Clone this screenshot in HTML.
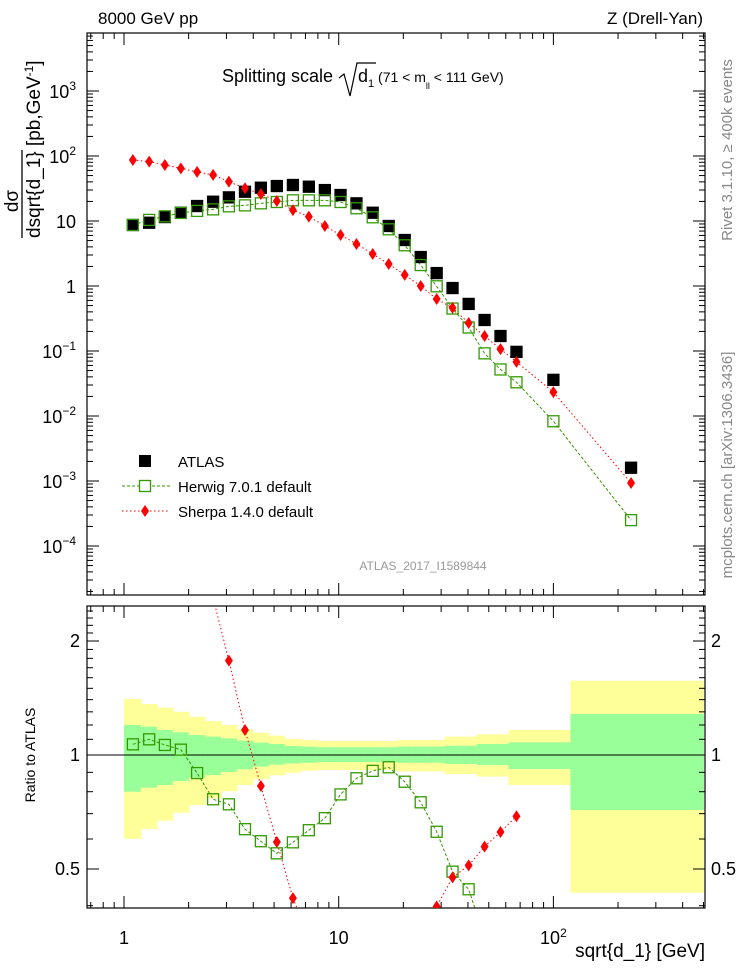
<!DOCTYPE html>
<html><head><meta charset="utf-8"><style>
html,body{margin:0;padding:0;background:#fff;width:746px;height:972px;overflow:hidden;}
svg{display:block;font-family:"Liberation Sans",sans-serif;}
</style></head><body>
<svg id="chart" width="746" height="972" viewBox="0 0 746 972" xmlns="http://www.w3.org/2000/svg">
<text x="98" y="24" font-size="17">8000 GeV pp</text>
<text x="703" y="24" font-size="17" text-anchor="end">Z (Drell-Yan)</text>
<text x="222" y="82" font-size="18">Splitting scale</text>
<path d="M339,78 L344,74 L350,96 L357,63 L376,63" fill="none" stroke="#000" stroke-width="1.2"/>
<text x="358" y="82" font-size="18">d<tspan font-size="11" dy="5">1</tspan><tspan dy="-5" font-size="14"> (71 &lt; m</tspan><tspan font-size="9" dy="7">ll</tspan><tspan dy="-7" font-size="14"> &lt; 111 GeV)</tspan></text>
<text transform="translate(18,201) rotate(-90)" font-size="19" text-anchor="middle">dσ</text>
<line x1="22" x2="22" y1="238" y2="150" stroke="#000" stroke-width="1.3"/>
<text transform="translate(40,238) rotate(-90)" font-size="19">dsqrt{d_1} [pb,GeV<tspan font-size="12" dy="-7">-1</tspan><tspan dy="7">]</tspan></text>
<text transform="translate(35,755) rotate(-90)" font-size="14" text-anchor="middle">Ratio to ATLAS</text>
<text transform="translate(732,150) rotate(-90)" font-size="15" fill="#888" text-anchor="middle">Rivet 3.1.10, ≥ 400k events</text>
<text transform="translate(732,465) rotate(-90)" font-size="15" fill="#888" text-anchor="middle">mcplots.cern.ch [arXiv:1306.3436]</text>
<text x="423" y="570" font-size="12" fill="#999" text-anchor="middle">ATLAS_2017_I1589844</text>
<text x="705" y="957" font-size="19" text-anchor="end">sqrt{d_1} [GeV]</text>
<g id="g"></g>
</svg>
<script>
const xVals=[1.1,1.31,1.55,1.84,2.19,2.6,3.08,3.66,4.34,5.15,6.12,7.26,8.62,10.2,12.1,14.4,17.1,20.3,24.1,28.6,33.9,40.3,47.8,56.7,67.3,100,230];
const atlasVals=[8.68,9.4,11.5,13.4,17.0,19.8,23.1,28.2,32.5,34.5,35.8,33.7,29.9,25.1,18.7,13.4,8.38,5.1,2.79,1.58,0.93,0.53,0.30,0.17,0.097,0.036,0.0016];
const herwigVals=[8.68,10.4,11.8,13.3,14.3,15.1,16.8,17.4,18.7,19.6,20.8,20.8,20.8,19.6,15.7,11.4,7.45,4.23,2.1,0.99,0.45,0.23,0.092,0.052,0.033,0.0083,0.00025];
const sherpaVals=[86.7,82,72.7,64.6,56.9,51.2,40.3,31.9,26,20.3,14.7,11.7,8.38,6.09,4.43,3.10,2.18,1.48,1.0,0.63,0.46,0.27,0.17,0.107,0.068,0.0233,0.00093];
const herwigRatio=[1.067,1.10,1.063,1.033,0.896,0.764,0.741,0.637,0.592,0.55,0.588,0.633,0.681,0.787,0.868,0.908,0.928,0.85,0.75,0.627,0.492,0.442,0.33,0.33,0.33,0.33,0.33];
const sherpaRatio=[10,8.7,6.3,4.8,3.35,2.6,1.775,1.164,0.828,0.589,0.419,0.33,0.33,0.33,0.33,0.33,0.33,0.33,0.36,0.398,0.475,0.511,0.573,0.626,0.689,null,null];
const yellowHi=[1.406,1.364,1.334,1.301,1.262,1.229,1.20,1.169,1.145,1.125,1.102,1.095,1.089,1.089,1.089,1.089,1.089,1.095,1.095,1.095,1.118,1.118,1.134,1.134,1.164,1.164,1.571];
const greenHi=[1.20,1.188,1.164,1.148,1.129,1.118,1.106,1.091,1.078,1.069,1.056,1.052,1.048,1.048,1.048,1.048,1.048,1.052,1.052,1.052,1.058,1.058,1.069,1.069,1.080,1.080,1.283];
const greenLo=[0.80,0.82,0.833,0.854,0.871,0.885,0.902,0.917,0.932,0.943,0.95,0.954,0.958,0.958,0.958,0.958,0.958,0.954,0.954,0.954,0.947,0.947,0.941,0.941,0.918,0.918,0.716];
const yellowLo=[0.601,0.638,0.671,0.704,0.738,0.768,0.802,0.833,0.863,0.884,0.898,0.909,0.913,0.913,0.913,0.913,0.913,0.905,0.905,0.905,0.891,0.891,0.877,0.877,0.833,0.833,0.433];
const xTickVals=[1,10,100];

const NS='http://www.w3.org/2000/svg';
const g=document.getElementById('g');
const L=87,R=705,MT=33,MB=595,RT=606,RB=908;
const X=v=>124+214.7*Math.log10(v);
const YM=v=>286-65*Math.log10(v);
const YR=v=>755-378.7*Math.log10(v);
function el(t,a,p){const e=document.createElementNS(NS,t);for(const k in a)e.setAttribute(k,a[k]);(p||g).appendChild(e);return e;}
const defs=el('defs',{});
const c1=el('clipPath',{id:'cm'},defs);el('rect',{x:L,y:MT,width:R-L,height:MB-MT},c1);
const c2=el('clipPath',{id:'cr'},defs);el('rect',{x:L,y:RT,width:R-L,height:RB-RT},c2);
const edges=[];
for(let i=0;i<xVals.length;i++){
  const lo=i==0?1.0:(i==25?Math.sqrt(xVals[24]*xVals[25])*0.98:(i==26?120:Math.sqrt(xVals[i-1]*xVals[i])));
  const hi=i==24?Math.sqrt(xVals[24]*xVals[25])*0.98:(i==25?120:(i==26?500:Math.sqrt(xVals[i]*xVals[i+1])));
  edges.push([lo,hi]);
}
const bandG=el('g',{'clip-path':'url(#cr)'});


for(let i=0;i<xVals.length;i++){
  const x0=X(edges[i][0]),x1=X(edges[i][1]);
  const y1=el('rect',{x:x0,y:YR(yellowHi[i]),width:x1-x0+0.5,height:YR(yellowLo[i])-YR(yellowHi[i]),fill:'#ffff99'},bandG);
  
  
  const g1=el('rect',{x:x0,y:YR(greenHi[i]),width:x1-x0+0.5,height:YR(greenLo[i])-YR(greenHi[i]),fill:'#99ff99'},bandG);
  
  
}
el('line',{x1:L,x2:R,y1:YR(1),y2:YR(1),stroke:'#000','stroke-width':1});
for(const [t,b,n] of [[MT,MB,'main-frame'],[RT,RB,'ratio-frame']]){
  const f=el('rect',{x:L,y:t,width:R-L,height:b-t,fill:'none',stroke:'#000','stroke-width':1.2});
  
  
}
function xticks(t,b){
  for(const dec of [0.1,1,10,100]){
    for(let k=1;k<10;k++){
      const v=dec*k; const px=X(v); if(px<L||px>R)continue;
      const len=k==1?12:6;
      el('line',{x1:px,x2:px,y1:t,y2:t+len,stroke:'#000'});
      el('line',{x1:px,x2:px,y1:b,y2:b-len,stroke:'#000'});
    }
  }
}
xticks(MT,MB);xticks(RT,RB);
xTickVals.forEach(v=>{
  const t=el('text',{x:X(v),y:944,'font-size':18,'text-anchor':'middle'});
  
  
  if(v==100){t.textContent='10';const s=el('tspan',{'font-size':12,dy:-7},t);s.textContent='2';}
  else t.textContent=String(v);
});
for(let e=-5;e<=3;e++){
  for(let k=1;k<10;k++){
    const py=YM(k*Math.pow(10,e)); if(py<MT||py>MB)continue;
    const len=k==1?12:6;
    el('line',{x1:L,x2:L+len,y1:py,y2:py,stroke:'#000'});
    el('line',{x1:R,x2:R-len,y1:py,y2:py,stroke:'#000'});
  }
}
const yLabs=[[3,'10','3'],[2,'10','2'],[1,'10',''],[0,'1',''],[-1,'10','−1'],[-2,'10','−2'],[-3,'10','−3'],[-4,'10','−4']];
yLabs.forEach(([e,b,s])=>{
  const t=el('text',{x:76,y:YM(Math.pow(10,e))+7,'font-size':18,'text-anchor':'end'});
  
  
  t.textContent=b;
  if(s){const sp=el('tspan',{'font-size':12,dy:-8},t);sp.textContent=s;}
});
for(let i=4;i<=25;i++){
  const vv=i/10;const py=YR(vv);if(py<RT||py>RB)continue;
  const len=(i==5||i==10||i==20)?12:6;
  el('line',{x1:L,x2:L+len,y1:py,y2:py,stroke:'#000'});
  el('line',{x1:R,x2:R-len,y1:py,y2:py,stroke:'#000'});
}
[[2,'2'],[1,'1'],[0.5,'0.5']].forEach(([v,s])=>{
  for(const [x,a] of [[80,'end'],[711,'start']]){
    const t=el('text',{x:x,y:YR(v)+6,'font-size':18,'text-anchor':a});
    
    
    t.textContent=s;
  }
});
function line(xs,ys,Y,color,dash,clip,name){
  const pts=[];xs.forEach((x,i)=>{if(ys[i]!=null)pts.push(X(x)+','+Y(ys[i]));});
  const p=el('polyline',{points:pts.join(' '),fill:'none',stroke:color,'stroke-width':1,'stroke-dasharray':dash,'clip-path':clip});
  
  
}
function square(x,y,fill,name,clip){
  const r=el('rect',{x:x-5.5,y:y-5.5,width:11,height:11,fill:fill?'#000':'none',stroke:fill?'#000':'#339900','stroke-width':1.3,'clip-path':clip});
  
  
}
function diamond(x,y,name,clip){
  const p=el('path',{d:`M${x},${y-6} L${x+4},${y} L${x},${y+6} L${x-4},${y} Z`,fill:'#ff0000','clip-path':clip});
  
  
}
line(xVals,sherpaVals,YM,'#ff0000','1.5,2.5','url(#cm)','sherpa-line');
line(xVals,herwigVals,YM,'#339900','3,2','url(#cm)','herwig-line');
xVals.forEach((x,i)=>square(X(x),YM(atlasVals[i]),true,'atlas-point','url(#cm)'));
xVals.forEach((x,i)=>square(X(x),YM(herwigVals[i]),false,'herwig-point','url(#cm)'));
xVals.forEach((x,i)=>diamond(X(x),YM(sherpaVals[i]),'sherpa-point','url(#cm)'));
line(xVals,sherpaRatio,YR,'#ff0000','1.5,2.5','url(#cr)','sherpa-ratio-line');
line(xVals,herwigRatio,YR,'#339900','3,2','url(#cr)','herwig-ratio-line');
xVals.forEach((x,i)=>{if(YR(herwigRatio[i])>RT-6&&YR(herwigRatio[i])<RB+6)square(X(x),YR(herwigRatio[i]),false,'herwig-ratio-point','url(#cr)');});
xVals.forEach((x,i)=>{if(sherpaRatio[i]!=null&&YR(sherpaRatio[i])>RT-6&&YR(sherpaRatio[i])<RB+6)diamond(X(x),YR(sherpaRatio[i]),'sherpa-ratio-point','url(#cr)');});
const lg=el('g',{});


el('rect',{x:139,y:455,width:12,height:12,fill:'#000'},lg);
el('line',{x1:122,x2:170,y1:486,y2:486,stroke:'#339900','stroke-dasharray':'3,2'},lg);
el('rect',{x:139.5,y:480.5,width:11,height:11,fill:'#fff',stroke:'#339900','stroke-width':1.3},lg);
el('line',{x1:122,x2:170,y1:511,y2:511,stroke:'#ff0000','stroke-dasharray':'1.5,2.5'},lg);
el('path',{d:'M145,505 L149,511 L145,517 L141,511 Z',fill:'#ff0000'},lg);
[['ATLAS',467],['Herwig 7.0.1 default',492],['Sherpa 1.4.0 default',517]].forEach(([s,y])=>{
  const t=el('text',{x:178,y:y,'font-size':15},lg);
  
  
  t.textContent=s;
});
</script>
</body></html>
